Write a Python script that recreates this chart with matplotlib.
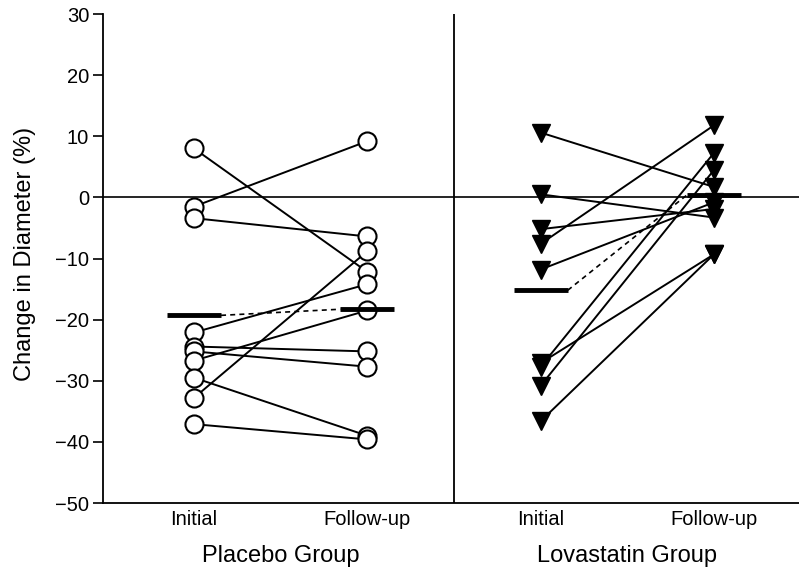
import matplotlib
matplotlib.use("Agg")
import matplotlib.pyplot as plt

plt.rcParams["font.family"] = ["Liberation Sans", "DejaVu Sans"]

# valores (cambio de diámetro, %)
placebo_inicial = [8.0, -1.5, -3.4, -22.1, -24.4, -25.2, -26.7, -29.5, -32.8, -37.1]
placebo_seguim = [-12.2, 9.2, -6.4, -14.2, -25.2, -27.7, -18.5, -39.0, -8.8, -39.6]

lova_inicial = [10.6, 0.5, -5.2, -7.6, -11.8, -27.1, -27.7, -30.8, -36.6]
lova_seguim = [1.7, -3.3, -1.9, 11.8, -0.8, -9.3, 7.3, 4.5, -9.3]

# medias (barras horizontales)
medias_placebo = [-19.3, -18.3]
medias_lova = [-15.2, 0.4]

etiquetas_x = ["Initial", "Follow-up", "Initial", "Follow-up"]
grupos = ["Placebo Group", "Lovastatin Group"]
y_ticks = [30, 20, 10, 0, -10, -20, -30, -40, -50]

fig = plt.figure(figsize=(7.99, 5.71), dpi=100)
ax = fig.add_axes([103 / 799, 1 - 503 / 571, (799 - 103) / 799, (503 - 14) / 571])

ax.axhline(0, color="black", lw=1.2, zorder=1)
ax.axvline(2.5, color="black", lw=1.3, zorder=1)

# placebo: círculos blancos
for a, b in zip(placebo_inicial, placebo_seguim):
    ax.plot([1, 2], [a, b], color="black", lw=1.4, zorder=2)
ax.plot([1] * len(placebo_inicial), placebo_inicial, "o", ms=13, mfc="white",
        mec="black", mew=1.5, ls="none", zorder=4)
ax.plot([2] * len(placebo_seguim), placebo_seguim, "o", ms=13, mfc="white",
        mec="black", mew=1.5, ls="none", zorder=4)

# lovastatina: triángulos negros
for a, b in zip(lova_inicial, lova_seguim):
    ax.plot([3, 4], [a, b], color="black", lw=1.4, zorder=2)
ax.plot([3] * len(lova_inicial), lova_inicial, "v", ms=12.5, color="black",
        ls="none", zorder=4)
ax.plot([4] * len(lova_seguim), lova_seguim, "v", ms=12.5, color="black",
        ls="none", zorder=4)

# medias
hw = 0.156
for x0, (m0, m1) in [(1, medias_placebo), (3, medias_lova)]:
    ax.plot([x0 - hw, x0 + hw], [m0, m0], color="black", lw=3.5, zorder=5,
            solid_capstyle="butt")
    ax.plot([x0 + 1 - hw, x0 + 1 + hw], [m1, m1], color="black", lw=3.5,
            zorder=5, solid_capstyle="butt")
    ax.plot([x0 + hw, x0 + 1 - hw], [m0, m1], color="black", lw=1.2,
            ls=(0, (3, 2.5)), zorder=3)

ax.set_xlim(0.475, 4.49)
ax.set_ylim(-50, 30)
ax.set_yticks(y_ticks)
ax.set_yticklabels([f"{v}".replace("-", "\u2212") for v in y_ticks])
ax.set_xticks([1, 2, 3, 4])
ax.set_xticklabels(etiquetas_x)
ax.tick_params(axis="x", length=0, pad=5, labelsize=14.5)
ax.tick_params(axis="y", length=7, width=1.2, labelsize=14.5, direction="out", pad=3)
ax.set_ylabel("Change in Diameter (%)", fontsize=17)
ax.yaxis.set_label_coords((36 - 103) / 696, 0.51)

for s in ["top", "right"]:
    ax.spines[s].set_visible(False)
for s in ["left", "bottom"]:
    ax.spines[s].set_linewidth(1.3)

ax.text(1.5, -58.6, grupos[0], ha="center", va="center", fontsize=17)
ax.text(3.5, -58.6, grupos[1], ha="center", va="center", fontsize=17)

fig.savefig("out.png", dpi=100)
plt.close(fig)
